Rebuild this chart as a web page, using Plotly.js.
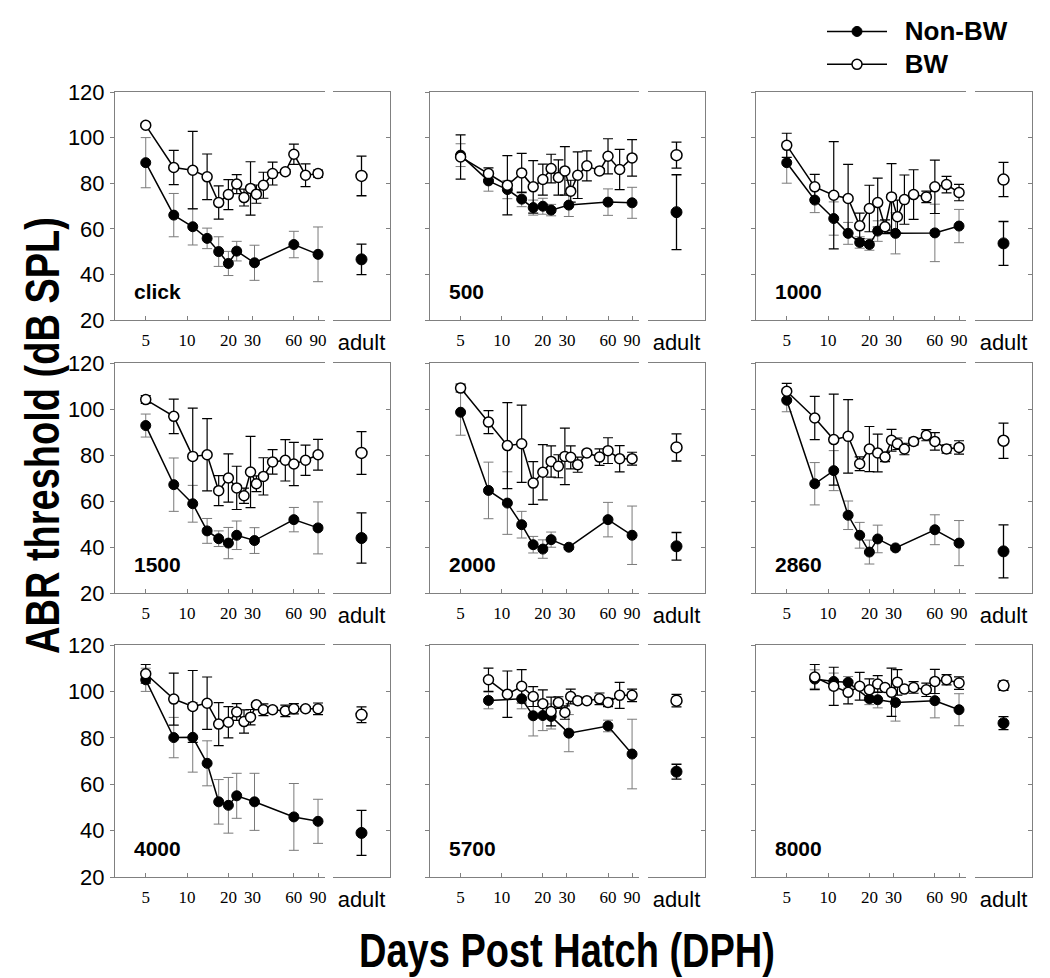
<!DOCTYPE html>
<html>
<head>
<meta charset="utf-8">
<script src="https://cdn.plot.ly/plotly-3.0.1.min.js"></script>
<style>html,body{margin:0;padding:0;background:#fff;}#chart{width:1050px;height:978px;}</style>
</head>
<body>
<div id="chart"></div>
<script>
// ---------- DATA ----------
const ageNon = [5, 8, 11, 14, 17, 20, 23, 31, 60, 90];
const ageBW = [5, 8, 11, 14, 17, 20, 23, 26, 29, 32, 36, 42, 52, 60, 73, 90];
const xTickVals = [5, 10, 20, 30, 60, 90];
const xTickText = ['5', '10', '20', '30', '60', '90'];
const yTickVals = [20, 40, 60, 80, 100, 120];
const adultLabel = ['adult'];
const panelNames = ['click', '500', '1000', '1500', '2000', '2860', '4000', '5700', '8000'];
const seriesNames = ['Non-BW', 'BW'];

// click
const nonClick = [89, 66, 60.9, 55.8, 50, 44.8, 50.2, 45.1, 53.1, 48.8];
const nonClickErr = [11, 9.5, 8, 4.5, 6.5, 5.3, 4.3, 7.7, 5.8, 12];
const bwClick = [105.4, 86.9, 85.7, 82.8, 71.5, 75, 79.6, 73.7, 77.7, 75.2, 79.1, 84.2, 85, 92.7, 83.5, 84.2];
const bwClickErr = [0.8, 7.5, 17, 10, 7.3, 6.6, 4.2, 3.7, 11.7, 4, 5.7, 5, 1, 4.4, 5, 1.5];
// 500
const non500 = [92.3, 81, 77.2, 73, 69.3, 69.9, 68.2, 70.4, 71.7, 71.4];
const non500Err = [5, 4.5, 4, 3.3, 3.3, 3.5, 2.5, 5, 5.8, 6.8];
const bw500 = [91.5, 84.2, 79.1, 84.5, 78.4, 81.6, 86.4, 82.5, 85.4, 76.5, 83.5, 87.6, 85.4, 91.8, 86, 91.1];
const bw500Err = [9.7, 2.5, 13, 8.6, 11.5, 6.8, 6.3, 7.7, 10.6, 4.8, 10.2, 6.6, 1, 7.7, 8.8, 8];
// 1000
const non1000 = [89, 72.6, 64.5, 58, 54, 53.1, 59, 58, 58.2, 61.2];
const non1000Err = [9, 5.5, 7.3, 4.8, 2.5, 2.5, 4.5, 9, 12.6, 7.3];
const bw1000 = [96.6, 78.4, 74.7, 73.3, 61.3, 68.9, 71.5, 60.9, 74, 65.3, 72.8, 75, 74, 78.4, 79.4, 75.9];
const bw1000Err = [5.3, 5.5, 23.5, 15, 5.6, 10.2, 10.7, 3, 14.6, 7.3, 10.8, 10.9, 2.5, 11.7, 3.6, 3.6];
// 1500
const non1500 = [92.8, 67.1, 58.8, 47, 43.6, 41.7, 45.1, 42.8, 51.9, 48.3];
const non1500Err = [5, 11.6, 8, 5.4, 3.4, 6.8, 6.2, 5.6, 5.3, 11.3];
const bw1500 = [104.1, 96.8, 79.4, 80.1, 64.5, 70, 65.7, 62.3, 72.6, 67.5, 70.7, 77, 77.7, 76.1, 77.7, 80.1];
const bw1500Err = [1.7, 7.5, 21, 15.7, 6.5, 10.5, 9.4, 3.3, 15.5, 3.4, 8.1, 5.3, 9, 9.4, 6.6, 6.7];
// 2000
const non2000 = [98.6, 64.6, 59.1, 49.7, 41, 39.1, 43.2, 39.9, 51.9, 45.1];
const non2000Err = [10, 12.3, 13.6, 5.8, 3.6, 4, 3.3, 1, 7.5, 12.7];
const bw2000 = [109.1, 94.3, 84.1, 84.9, 67.8, 72.5, 77.2, 75.1, 79.4, 79, 75.8, 80.9, 79.1, 81.9, 78.4, 78.4];
const bw2000Err = [1.7, 5, 18.7, 16.8, 9.3, 12, 6.8, 5, 12.3, 5, 3.3, 1, 3.6, 5.6, 5.7, 2.8];
// 2860
const non2860 = [103.8, 67.5, 73.2, 53.8, 45.1, 37.8, 43.5, 39.6, 47.5, 41.7];
const non2860Err = [5, 9.2, 8.7, 6.2, 5.6, 5.2, 6, 1, 6.5, 9.8];
const bw2860 = [107.7, 96.1, 86.7, 88.1, 76.2, 82.6, 80.9, 79.1, 86.4, 84.9, 82.6, 85.9, 88.6, 85.9, 82.6, 83.3];
const bw2860Err = [3.4, 9.4, 19.8, 16, 3, 9.8, 8.2, 2, 4.7, 2.5, 2.5, 1.5, 2.4, 3.8, 1.8, 2.9];
// 4000
const non4000 = [105, 80.1, 80.2, 69, 52.4, 50.9, 55, 52.4, 45.9, 44];
const non4000Err = [5, 8.7, 15, 9.7, 9.6, 12, 9.7, 12.3, 14.4, 9.5];
const bw4000 = [107.6, 96.7, 93.5, 94.9, 85.9, 86.7, 91.1, 87, 88.9, 94.2, 92.1, 92.1, 91.6, 92.5, 92.5, 92.5];
const bw4000Err = [4, 11.2, 15.5, 11.3, 9.3, 6.7, 3.6, 5, 3.3, 1, 2.5, 1, 2.5, 2.2, 1, 2.5];
// 5700
const non5700 = [null, 96.1, null, 96.8, 89.5, 89.6, 89.2, 82, 85.1, 73];
const non5700Err = [0, 3.6, 0, 4.3, 8.7, 6.5, 5.4, 8, 2.5, 15];
const bw5700 = [null, 105, 98.8, 102.2, 97.8, 94.7, 91.3, 95.2, 90.9, 97.8, 96, 96, 96.8, 95.2, 98.3, 98.3];
const bw5700Err = [0, 5, 10, 7.2, 4.3, 6, 6.2, 2.5, 2.9, 3.2, 1, 1, 2.5, 1.8, 5.6, 2.7];
// 8000
const non8000 = [null, 105.3, 104.3, 103.9, null, 96.8, 96.4, 95.2, 96, 92.1];
const non8000Err = [0, 4, 3.6, 2.5, 0, 2.5, 3.5, 8, 7.4, 6.9];
const bw8000 = [null, 106.2, 102.2, 99.6, 102.2, 100.7, 103.2, 101.7, 99.6, 103.9, 101, 101.7, 100.7, 104.3, 105, 103.6];
const bw8000Err = [0, 5.4, 8.2, 5, 6, 4.7, 3.6, 1, 10.4, 5.5, 1, 2.5, 2.9, 5.2, 2.2, 2.7];

// adult values (order as panelNames)
const adultNon = [46.6, 67.3, 53.6, 43.9, 40.3, 38.1, 39, 65.4, 86.3];
const adultNonErr = [6.7, 16.4, 9.6, 10.9, 6, 11.5, 9.7, 3.2, 2.8];
const adultBW = [83.2, 92.3, 81.6, 80.9, 83.3, 86.2, 89.9, 96, 102.5];
const adultBWErr = [8.7, 5.7, 7.5, 9.3, 5.9, 7.7, 3.4, 2.7, 2];

const nonSeries = [nonClick, non500, non1000, non1500, non2000, non2860, non4000, non5700, non8000];
const nonErrSeries = [nonClickErr, non500Err, non1000Err, non1500Err, non2000Err, non2860Err, non4000Err, non5700Err, non8000Err];
const bwSeries = [bwClick, bw500, bw1000, bw1500, bw2000, bw2860, bw4000, bw5700, bw8000];
const bwErrSeries = [bwClickErr, bw500Err, bw1000Err, bw1500Err, bw2000Err, bw2860Err, bw4000Err, bw5700Err, bw8000Err];

// ---------- LAYOUT ----------
const W = 1050, H = 978;
const COLS = [[115, 325, 333, 390], [430, 639, 648, 705], [756, 966, 975, 1032]];
const ROWS = [[92, 320], [363, 593], [645, 877]];
const FRAME = '#808080';
const GREYERR = '#7a7a7a';
const SANS = 'Arial, Liberation Sans, sans-serif';
const SERIF = 'Times New Roman, Liberation Serif, serif';

const legendName = s => '\u00a0\u00a0<span style="font-size:26px"><b>' + s + '</b></span>';

const traces = [];
const layout = {
  width: W, height: H,
  margin: {l: 0, r: 0, t: 0, b: 0},
  paper_bgcolor: '#fff', plot_bgcolor: '#fff',
  showlegend: true,
  legend: {x: 822 / W, y: 1 - 10 / H, xanchor: 'left', yanchor: 'top',
           font: {family: SANS, size: 23, color: '#000'}, tracegroupgap: 0,
           bgcolor: 'rgba(0,0,0,0)', itemwidth: 60},
  annotations: [], shapes: []
};

for (let i = 0; i < 9; i++) {
  const c = COLS[i % 3], r = ROWS[Math.floor(i / 3)];
  const km = 2 * i + 1, ka = 2 * i + 2;
  const xm = 'x' + km, ym = 'y' + km, xa = 'x' + ka, ya = 'y' + ka;
  const ydom = [1 - r[1] / H, 1 - r[0] / H];

  layout['xaxis' + km] = {
    domain: [c[0] / W, c[1] / W], type: 'log', range: [0.475, 2.005], anchor: ym,
    tickvals: xTickVals, ticktext: xTickText, ticks: 'inside', ticklen: 4, tickcolor: FRAME,
    showline: true, linecolor: FRAME, linewidth: 1, mirror: true, showgrid: false, zeroline: false,
    tickfont: {family: SERIF, size: 17, color: '#000'}, ticklabelstandoff: 5, fixedrange: true
  };
  layout['yaxis' + km] = {
    domain: ydom, range: [20, 120], anchor: xm, tickvals: yTickVals,
    ticks: 'outside', ticklen: 4, tickcolor: FRAME, showline: true, linecolor: FRAME, linewidth: 1,
    showgrid: false, zeroline: false, showticklabels: (i % 3 === 0),
    tickfont: {family: SANS, size: 22, color: '#000'}, ticklabelstandoff: 1, fixedrange: true
  };
  layout['xaxis' + ka] = {
    domain: [c[2] / W, c[3] / W], type: 'category', range: [-1, 1], anchor: ya,
    ticks: '', showline: true, linecolor: FRAME, linewidth: 1, mirror: true, showgrid: false, zeroline: false,
    tickfont: {family: SANS, size: 22, color: '#000'}, ticklabelstandoff: 3, fixedrange: true
  };
  layout['yaxis' + ka] = {
    domain: ydom, range: [20, 120], anchor: xa, side: 'right', tickvals: yTickVals,
    ticks: 'inside', ticklen: 4, tickcolor: FRAME, showline: true, linecolor: FRAME, linewidth: 1,
    showgrid: false, zeroline: false, showticklabels: false, fixedrange: true
  };

  traces.push({
    type: 'scatter', mode: 'lines+markers', name: legendName(seriesNames[0]), legendgroup: 'non',
    showlegend: i === 0, x: ageNon, y: nonSeries[i], xaxis: xm, yaxis: ym, connectgaps: true,
    line: {color: '#000', width: 1.5},
    marker: {symbol: 'circle', size: 10, color: '#000', line: {color: '#000', width: 1}},
    error_y: {type: 'data', array: nonErrSeries[i], visible: true, color: GREYERR, thickness: 1, width: 5}
  });
  traces.push({
    type: 'scatter', mode: 'lines+markers', name: legendName(seriesNames[1]), legendgroup: 'bw',
    showlegend: i === 0, x: ageBW, y: bwSeries[i], xaxis: xm, yaxis: ym, connectgaps: true,
    line: {color: '#000', width: 1.5},
    marker: {symbol: 'circle', size: 10, color: '#fff', line: {color: '#000', width: 1.5}},
    error_y: {type: 'data', array: bwErrSeries[i], visible: true, color: '#000', thickness: 1.2, width: 5}
  });
  traces.push({
    type: 'scatter', mode: 'markers', name: 'Non-BW adult', showlegend: false,
    x: adultLabel, y: [adultNon[i]], xaxis: xa, yaxis: ya,
    marker: {symbol: 'circle', size: 11, color: '#000', line: {color: '#000', width: 1}},
    error_y: {type: 'data', array: [adultNonErr[i]], visible: true, color: '#000', thickness: 1.3, width: 5}
  });
  traces.push({
    type: 'scatter', mode: 'markers', name: 'BW adult', showlegend: false,
    x: adultLabel, y: [adultBW[i]], xaxis: xa, yaxis: ya,
    marker: {symbol: 'circle', size: 11, color: '#fff', line: {color: '#000', width: 1.5}},
    error_y: {type: 'data', array: [adultBWErr[i]], visible: true, color: '#000', thickness: 1.3, width: 5}
  });

  layout.annotations.push({
    xref: xm + ' domain', yref: ym, x: 0.08, y: 32.5, xanchor: 'left', yanchor: 'middle',
    text: '<b>' + panelNames[i] + '</b>', showarrow: false,
    font: {family: SANS, size: 21, color: '#000'}
  });
}

layout.annotations.push({
  xref: 'paper', yref: 'paper', x: 42 / W, y: 1 - 436 / H, xanchor: 'center', yanchor: 'middle',
  text: '<b>ABR threshold (dB SPL)</b>', textangle: -90, showarrow: false,
  font: {family: SANS, size: 38, color: '#000'}
});
layout.annotations.push({
  xref: 'paper', yref: 'paper', x: 567 / W, y: 1 - 950 / H, xanchor: 'center', yanchor: 'middle',
  text: '<b>Days Post Hatch (DPH)</b>', showarrow: false,
  font: {family: SANS, size: 38, color: '#000'}
});

Plotly.newPlot('chart', traces, layout, {staticPlot: true, displayModeBar: false}).then(function (gd) {
  // the original figure's big titles are drawn taller than normal: stretch them along the cap height
  gd.querySelectorAll('.annotation-text').forEach(function (el) {
    const t = el.textContent;
    if (t.indexOf('ABR threshold') === 0 || t.indexOf('Days Post Hatch') === 0) {
      const b = el.getBBox();
      const cx = b.x + b.width / 2, cy = b.y + b.height / 2;
      el.setAttribute('transform', 'translate(' + cx + ',' + cy + ') scale(1,1.27) translate(' + (-cx) + ',' + (-cy) + ')');
    }
  });
});
</script>
</body>
</html>
